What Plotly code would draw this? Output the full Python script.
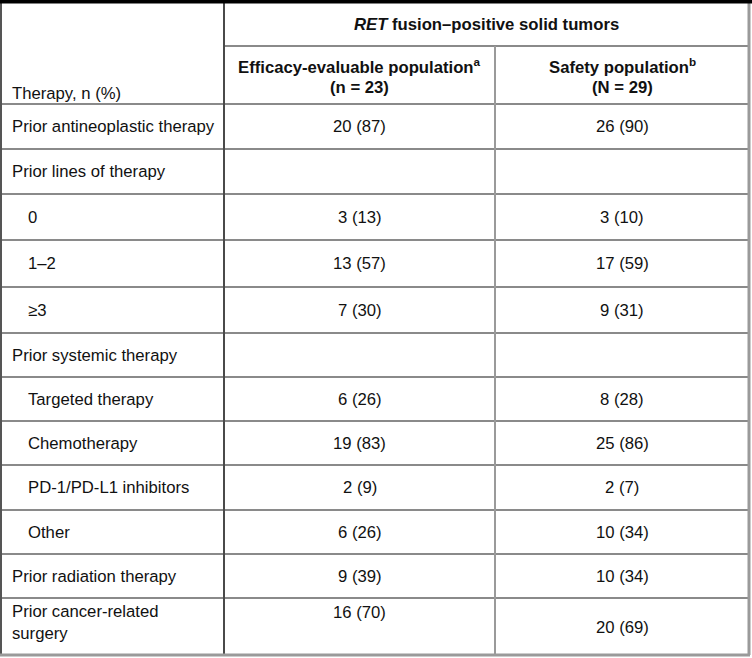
import plotly.graph_objects as go

# ---- data ----
row_labels = ["Prior antineoplastic therapy", "Prior lines of therapy", "0", "1–2", "≥3",
              "Prior systemic therapy", "Targeted therapy", "Chemotherapy",
              "PD-1/PD-L1 inhibitors", "Other", "Prior radiation therapy",
              "Prior cancer-related<br>surgery"]
row_indent = [0, 0, 1, 1, 1, 0, 1, 1, 1, 1, 0, 0]
eff_n = [20, None, 3, 13, 7, None, 6, 19, 2, 6, 9, 16]
eff_pct = [87, None, 13, 57, 30, None, 26, 83, 9, 26, 39, 70]
saf_n = [26, None, 3, 17, 9, None, 8, 25, 2, 10, 10, 20]
saf_pct = [90, None, 10, 59, 31, None, 28, 86, 7, 34, 34, 69]

group_header = "<i>RET</i> fusion–positive solid tumors"
col_header_line1 = ["Efficacy-evaluable population<sup>a</sup>", "Safety population<sup>b</sup>"]
col_header_line2 = ["(n = 23)", "(N = 29)"]
stub_header = "Therapy, n (%)"

# ---- layout geometry ----
W, H = 752, 658
x_left, x_c1, x_c2, x_right = 1, 224, 495, 749
y_top, y_split, y_head = 1.5, 46, 104
row_h = [45, 45, 46, 47, 46, 44, 44, 44, 45, 44, 44, 58]

FONT = "Liberation Sans, Arial, sans-serif"
FS = 16.7
TXT = "#111111"

fig = go.Figure()
shapes = []
ann = []

def hline(y, x0, x1, color, w):
    shapes.append(dict(type="line", x0=x0, x1=x1, y0=y, y1=y, xref="x", yref="y",
                       line=dict(color=color, width=w)))

def vline(x, y0, y1, color, w):
    shapes.append(dict(type="line", x0=x, x1=x, y0=y0, y1=y1, xref="x", yref="y",
                       line=dict(color=color, width=w)))

def text(x, y, s, anchor="center", bold=False):
    ann.append(dict(x=x, y=y, xref="x", yref="y", text=f"<b>{s}</b>" if bold else s,
                    showarrow=False, xanchor=anchor, yanchor="middle",
                    align=anchor if anchor != "center" else "center",
                    font=dict(family=FONT, size=FS, color=TXT)))

# row boundaries
bounds = [y_head]
for h in row_h:
    bounds.append(bounds[-1] + h)
y_bottom = bounds[-1] - 1

# grid lines
for y in bounds[:-1]:
    hline(y, x_left, x_right, "#8a8a8a", 2)
hline(y_split, x_c1, x_right, "#8a8a8a", 2)
vline(x_c1, y_top, y_bottom, "#4a4a4a", 2)
vline(x_c2, y_split, y_bottom, "#9a9a9a", 2)
# outer borders
vline(x_left, y_top, y_bottom, "#555555", 2)
vline(x_right, y_top, y_bottom, "#9a9a9a", 3)
hline(y_bottom, x_left - 1, x_right + 1, "#9a9a9a", 3)
hline(y_top, 0, W, "#000000", 4)

c1 = (x_c1 + x_c2) / 2
c2 = (x_c2 + x_right) / 2

# headers
text((x_c1 + x_right) / 2, 24, group_header, bold=True)
for cx, l1, l2 in zip([c1, c2], col_header_line1, col_header_line2):
    text(cx, 66, l1, bold=True)
    text(cx, 87, l2, bold=True)
text(10, 93, stub_header, anchor="left")

# body
for i, lab in enumerate(row_labels):
    top, bot = bounds[i], bounds[i + 1]
    mid = (top + bot) / 2
    multi = "<br>" in lab
    x = 26 if row_indent[i] else 10
    text(x, top + 24 if multi else mid, lab, anchor="left")
    if eff_n[i] is not None:
        text(c1, top + 14 if multi else mid, f"{eff_n[i]} ({eff_pct[i]})")
    if saf_n[i] is not None:
        text(c2, mid, f"{saf_n[i]} ({saf_pct[i]})")

fig.update_layout(
    width=W, height=H, margin=dict(l=0, r=0, t=0, b=0),
    paper_bgcolor="white", plot_bgcolor="white",
    xaxis=dict(range=[0, W], visible=False, fixedrange=True),
    yaxis=dict(range=[H, 0], visible=False, fixedrange=True),
    shapes=shapes, annotations=ann, showlegend=False,
)
fig.write_html("out.html", config={"displayModeBar": False},
               post_script="document.body.style.margin='0px';document.body.style.overflow='hidden';")
